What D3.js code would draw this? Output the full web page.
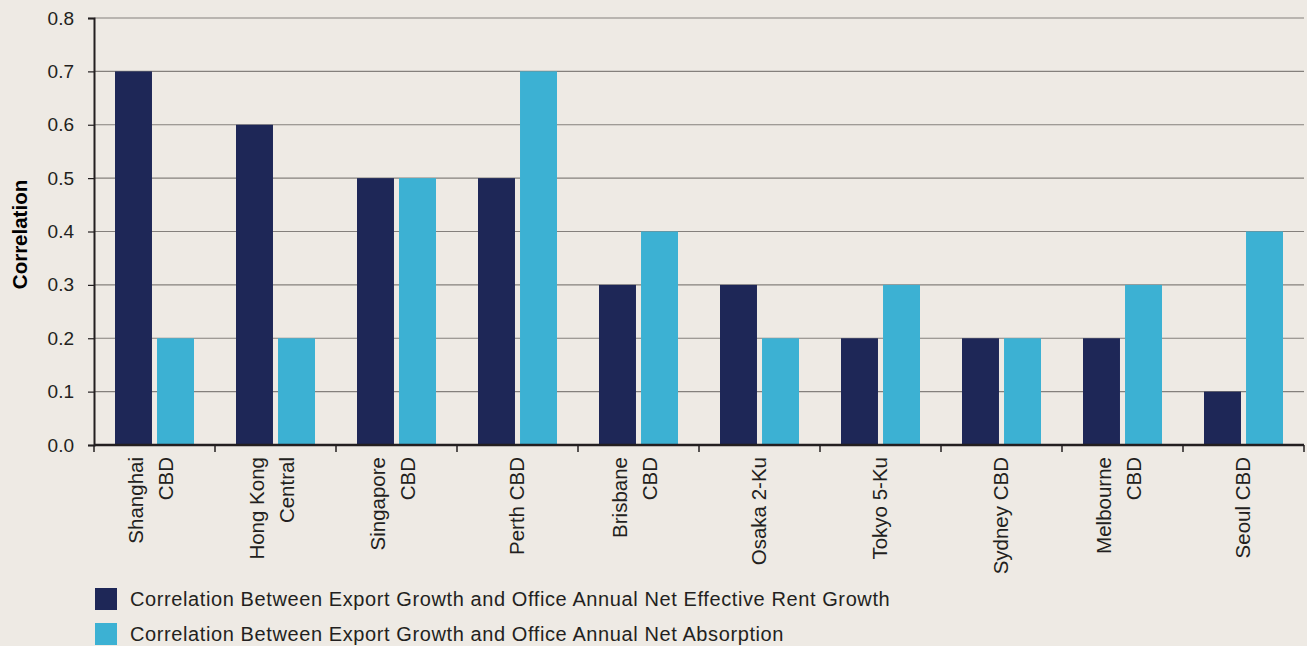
<!DOCTYPE html>
<html>
<head>
<meta charset="utf-8">
<script src="https://cdn.jsdelivr.net/npm/d3@7"></script>
<style>
  body { margin: 0; background: #eeeae4; }
  svg { display: block; font-family: "Liberation Sans", Arial, sans-serif; }
</style>
</head>
<body>
<div id="chart"></div>
<script>
// categories (\n marks the line break in the axis label)
const categories = [
  "Shanghai\nCBD", "Hong Kong\nCentral", "Singapore\nCBD", "Perth CBD",
  "Brisbane\nCBD", "Osaka 2-Ku", "Tokyo 5-Ku", "Sydney CBD",
  "Melbourne\nCBD", "Seoul CBD"
];
const rentGrowth = [0.7, 0.6, 0.5, 0.5, 0.3, 0.3, 0.2, 0.2, 0.2, 0.1];
const netAbsorption = [0.2, 0.2, 0.5, 0.7, 0.4, 0.2, 0.3, 0.2, 0.3, 0.4];
const yTicks = [0, 0.1, 0.2, 0.3, 0.4, 0.5, 0.6, 0.7, 0.8];
const seriesNames = [
  "Correlation Between Export Growth and Office Annual Net Effective Rent Growth",
  "Correlation Between Export Growth and Office Annual Net Absorption"
];
const colors = ["#1e2757", "#3cb1d3"];

const width = 1307, height = 646;
const m = { left: 94, right: 3, top: 18, bottom: 201 };

const svg = d3.select("#chart").append("svg")
  .attr("width", width).attr("height", height);

const x = d3.scaleBand().domain(categories).range([m.left, width - m.right]);
const x1 = d3.scaleBand().domain([0, 1]).range([0, x.bandwidth()])
  .paddingInner(0.12).paddingOuter(0.5);
const y = d3.scaleLinear().domain([0, 0.8]).range([height - m.bottom, m.top]);

// gridlines
svg.append("g").selectAll("line").data(yTicks).join("line")
  .attr("x1", m.left).attr("x2", width - m.right)
  .attr("y1", d => y(d)).attr("y2", d => y(d))
  .attr("stroke", "#84807c").attr("stroke-width", 1.2);

// bars
const rows = categories.map((c, i) => ({ c, v: [rentGrowth[i], netAbsorption[i]] }));
const grp = svg.append("g").selectAll("g").data(rows).join("g")
  .attr("transform", d => `translate(${x(d.c)},0)`);
grp.selectAll("rect").data(d => d.v).join("rect")
  .attr("x", (d, i) => x1(i))
  .attr("width", x1.bandwidth())
  .attr("y", d => y(d))
  .attr("height", d => y(0) - y(d))
  .attr("fill", (d, i) => colors[i]);

// y axis
const yAxis = svg.append("g")
  .attr("transform", `translate(${m.left},0)`)
  .call(d3.axisLeft(y).tickValues(yTicks).tickFormat(d3.format(".1f")).tickSize(6).tickPadding(14));
yAxis.select(".domain").attr("stroke", "#231f20").attr("stroke-width", 2);
yAxis.selectAll(".tick line").attr("stroke", "#231f20").attr("stroke-width", 1.2);
yAxis.selectAll("text").attr("font-size", 19).attr("fill", "#231f20");

// x axis baseline + boundary ticks
const bounds = categories.map(c => x(c)).concat([x.range()[1]]);
svg.append("line")
  .attr("x1", m.left).attr("x2", width - m.right)
  .attr("y1", y(0)).attr("y2", y(0))
  .attr("stroke", "#231f20").attr("stroke-width", 2.5);
svg.append("g").selectAll("line").data(bounds).join("line")
  .attr("x1", d => d).attr("x2", d => d)
  .attr("y1", y(0)).attr("y2", y(0) + 7)
  .attr("stroke", "#231f20").attr("stroke-width", 1.5);

// category labels, rotated
const lab = svg.append("g").selectAll("text").data(categories).join("text")
  .attr("transform", d => `translate(${x(d) + x.bandwidth() / 2},${y(0) + 12}) rotate(-90)`)
  .attr("text-anchor", "end")
  .attr("font-size", 20.5)
  .attr("fill", "#231f20");
lab.each(function(d) {
  const lines = d.split("\n");
  const t = d3.select(this);
  const base = lines.length === 1 ? 6 : -11.5;
  lines.forEach((ln, k) => {
    t.append("tspan").attr("x", 0).attr("y", base + k * 30).text(ln);
  });
});

// y title
svg.append("text")
  .attr("transform", `translate(27,${(y(0) + y(0.8)) / 2 + 3}) rotate(-90)`)
  .attr("text-anchor", "middle")
  .attr("font-size", 20.5).attr("font-weight", "bold").attr("fill", "#000")
  .text("Correlation");

// legend
const leg = svg.append("g").selectAll("g").data(seriesNames).join("g")
  .attr("transform", (d, i) => `translate(95,${588 + i * 35})`);
leg.append("rect").attr("width", 22).attr("height", 22)
  .attr("fill", (d, i) => colors[i]);
leg.append("text").attr("x", 35).attr("y", 18)
  .attr("font-size", 20).attr("letter-spacing", 0.6)
  .attr("fill", "#231f20").text(d => d);
</script>
</body>
</html>
